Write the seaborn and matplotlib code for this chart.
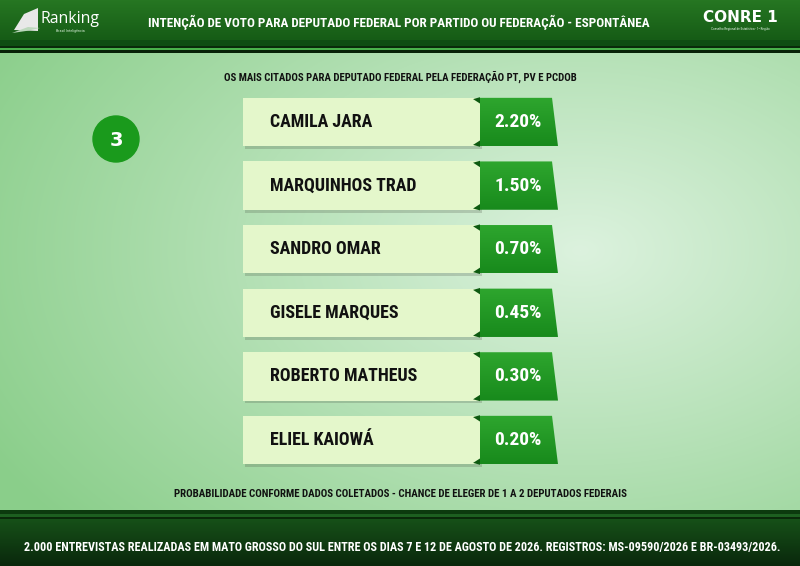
import numpy as np
import pandas as pd
import matplotlib
matplotlib.use("Agg")
import matplotlib.pyplot as plt
import seaborn as sns
from matplotlib import font_manager
from matplotlib.patches import Polygon, Circle, Rectangle
import matplotlib.patheffects as pe

# ---------------- data ----------------
nomes = ["CAMILA JARA", "MARQUINHOS TRAD", "SANDRO OMAR",
         "GISELE MARQUES", "ROBERTO MATHEUS", "ELIEL KAIOWÁ"]
valores = [2.20, 1.50, 0.70, 0.45, 0.30, 0.20]
titulo = "INTENÇÃO DE VOTO PARA DEPUTADO FEDERAL POR PARTIDO OU FEDERAÇÃO - ESPONTÂNEA"
subtitulo = "OS MAIS CITADOS PARA DEPUTADO FEDERAL PELA FEDERAÇÃO PT, PV E PCDOB"
nota = "PROBABILIDADE CONFORME DADOS COLETADOS - CHANCE DE ELEGER DE 1 A 2 DEPUTADOS FEDERAIS"
rodape = ("2.000 ENTREVISTAS REALIZADAS EM MATO GROSSO DO SUL ENTRE OS DIAS 7 E 12 DE AGOSTO DE 2026. "
          "REGISTROS: MS-09590/2026 E BR-03493/2026.")
numero = "3"

sns.set_theme(style="white")
avail = {f.name for f in font_manager.fontManager.ttflist}
narrow = None
for cand in ["Roboto Condensed", "Liberation Sans Narrow", "DejaVu Sans Condensed"]:
    if cand in avail:
        narrow = cand
        break
if narrow is None:
    narrow = "Liberation Sans" if "Liberation Sans" in avail else "DejaVu Sans"
plt.rcParams['font.family'] = [narrow, 'DejaVu Sans']

W, H = 800, 566
fig = plt.figure(figsize=(W / 100, H / 100), dpi=100)
renderer = fig.canvas.get_renderer()
ax = fig.add_axes([0, 0, 1, 1])
ax.set_xlim(0, W)
ax.set_ylim(H, 0)
ax.axis("off")


def fit_text(axis, x, y, s, width_px, start=12.0, **kw):
    t = axis.text(x, y, s, fontsize=start, **kw)
    w = t.get_window_extent(renderer=renderer).width
    t.set_fontsize(start * width_px / w)
    return t


# ---------------- background gradient ----------------
yy, xx = np.mgrid[0:H, 0:W]
d = np.sqrt(((xx - 580) / 520) ** 2 + ((yy - 250) / 330) ** 2)
t = np.clip(d, 0, 1.3) / 1.3
light = np.array([220, 242, 222]) / 255
dark = np.array([138, 206, 138]) / 255
bg = light[None, None, :] * (1 - t[..., None]) + dark[None, None, :] * t[..., None]
ax.imshow(bg, extent=(0, W, H, 0), zorder=0, aspect="auto")

# ---------------- header ----------------
hg = np.linspace(0, 1, 40)[:, None, None]
top_c = np.array([38, 118, 34]) / 255
bot_c = np.array([22, 92, 22]) / 255
hdr = np.repeat(top_c * (1 - hg) + bot_c * hg, 2, axis=1)
ax.imshow(hdr, extent=(0, W, 40, 0), zorder=1, aspect="auto")
ax.add_patch(Rectangle((0, 40), W, 6, color="#0f4d12", zorder=2, lw=0))
ax.add_patch(Rectangle((0, 46), W, 2, color="#0a2a0a", zorder=2, lw=0))
ax.add_patch(Rectangle((0, 48), W, 2, color="#49b04a", zorder=2, lw=0))
ax.add_patch(Rectangle((0, 50), W, 3, color="#082208", zorder=2, lw=0))

fit_text(ax, 399, 22, titulo, 502, color="white", fontweight="bold",
         ha="center", va="center", zorder=5)
# logo left
ax.add_patch(Polygon([[14, 30], [24, 14], [38, 8], [38, 31]], closed=True,
                     color="#e8e8e8", zorder=5, lw=0))
ax.add_patch(Polygon([[12, 33], [28, 27], [40, 28], [26, 31]], closed=True,
                     color="#bcd8bc", zorder=6, lw=0))
fit_text(ax, 41, 19, "Ranking", 59, family=["Open Sans", "DejaVu Sans"], color="white",
         ha="left", va="center", zorder=5)
ax.text(70, 31, "Brasil Inteligência", color="#cfe8cf", fontsize=3, ha="center",
        va="center", zorder=5)
# logo right
fit_text(ax, 740, 17, "CONRE 1", 75, family=["DejaVu Sans"], color="white",
         fontweight="bold", ha="center", va="center", zorder=5)
ax.text(740, 28.5, "Conselho Regional de Estatística - 1ª Região", color="#dfeedf",
        fontsize=2.4, ha="center", va="center", zorder=5)

# ---------------- footer ----------------
ax.add_patch(Rectangle((0, 510), W, 4, color="#0c3a0e", zorder=2, lw=0))
ax.add_patch(Rectangle((0, 514), W, 3, color="#1d5f20", zorder=2, lw=0))
ax.add_patch(Rectangle((0, 517), W, 2, color="#0a2a0a", zorder=2, lw=0))
fg = np.linspace(0, 1, 47)[:, None, None]
ftr = (np.array([22, 80, 24]) / 255) * (1 - fg) + (np.array([10, 40, 12]) / 255) * fg
ftr = np.repeat(ftr, 2, axis=1)
ax.imshow(ftr, extent=(0, W, H, 519), zorder=1, aspect="auto")
fit_text(ax, 402, 548, rodape, 752, color="white", fontweight="bold",
         ha="center", va="center", zorder=5)

# subtitle / note
fit_text(ax, 400, 77, subtitulo, 356, color="#111111", fontweight="bold",
         ha="center", va="center", zorder=5)
fit_text(ax, 400, 494, nota, 455, color="#111111", fontweight="bold",
         ha="center", va="center", zorder=5)

# number circle
ax.add_patch(Circle((116, 139), 23, color="#1a9a1c", zorder=5))
ax.text(116, 140, numero, color="white", fontsize=14, fontweight="bold",
        family=["DejaVu Sans"], ha="center", va="center", zorder=6)

# ---------------- cards (seaborn) ----------------
x0, x1 = 243, 558
ytop, ybot = 90.2, 471.8
cax = fig.add_axes([x0 / W, 1 - ybot / H, (x1 - x0) / W, (ybot - ytop) / H])
cax.patch.set_alpha(0)
CARD_END = (480 - x0) / (x1 - x0)
df = pd.DataFrame({"nome": nomes, "valor": valores})
df["cartao"] = CARD_END
sns.barplot(data=df, x="cartao", y="nome", orient="h", color="#e4f7cb",
            saturation=1, width=0.76, ax=cax, edgecolor="none", zorder=2)
for p in cax.patches:
    p.set_path_effects([pe.SimplePatchShadow(offset=(1.5, -2), alpha=0.22), pe.Normal()])
cax.set_xlim(0, 1)
cax.set_ylim(len(nomes) - 0.5, -0.5)
cax.axis("off")

# name font size: fit first name to its width in the reference
probe = cax.text(0, 0, nomes[0], fontsize=12, fontweight="bold")
name_fs = 12 * 102 / probe.get_window_extent(renderer=renderer).width
probe.remove()

h = 0.38
gr = np.linspace(0, 1, 50)[:, None, None]
gimg = (np.array([46, 166, 46]) / 255) * (1 - gr) + (np.array([24, 138, 28]) / 255) * gr
gimg = np.repeat(gimg, 2, axis=1)
for i, (nm, v) in enumerate(zip(df["nome"], df["valor"])):
    poly = Polygon([[CARD_END, i - h], [0.981, i - h], [1.0, i + h], [CARD_END, i + h]],
                   closed=True, facecolor="none", edgecolor="none", zorder=3)
    cax.add_patch(poly)
    im = cax.imshow(gimg, extent=(CARD_END, 1.0, i + h, i - h), aspect="auto", zorder=3)
    im.set_clip_path(poly)
    cax.add_patch(Polygon([[CARD_END - 0.022, i - h + 0.02], [CARD_END, i - h - 0.01],
                           [CARD_END, i - h + 0.09]], closed=True, color="#0d5a10", zorder=4, lw=0))
    cax.add_patch(Polygon([[CARD_END - 0.022, i + h - 0.02], [CARD_END, i + h + 0.01],
                           [CARD_END, i + h - 0.09]], closed=True, color="#0d5a10", zorder=4, lw=0))
    cax.text((270 - x0) / (x1 - x0), i, nm, color="#111111", fontsize=name_fs,
             fontweight="bold", ha="left", va="center", zorder=5)
    cax.text((518 - x0) / (x1 - x0), i, f"{v:.2f}%", color="white", fontsize=14,
             fontweight="bold", ha="center", va="center", zorder=5)

fig.savefig("out.png", dpi=100)
